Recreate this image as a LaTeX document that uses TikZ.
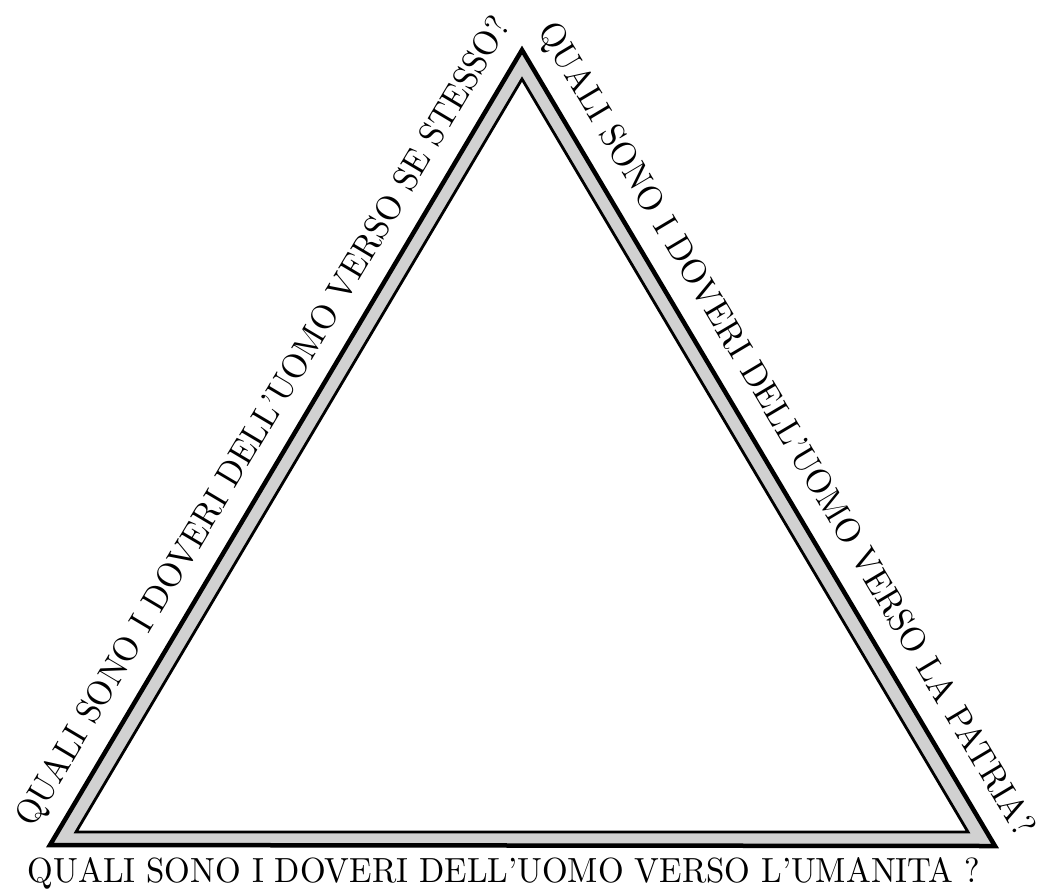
\documentclass[tikz,border=0pt]{standalone}
\usepackage{graphicx}
\begin{document}
\begin{tikzpicture}[x=1pt,y=-1pt,
  outerline/.style={line width=4.5pt, line join=miter, black},
  innerline/.style={line width=2.8pt, line join=miter, black},
  band/.style={fill=black!18, even odd rule},
  lbl/.style={inner sep=0pt, anchor=base, font=\rmfamily}]
\useasboundingbox (0,0) rectangle (1043,892);
\fill[white] (0,0) rectangle (1043,892);
% outer triangle corners
\coordinate (A) at (50,845);
\coordinate (B) at (995,846);
\coordinate (C) at (522,50);
% inner triangle corners
\coordinate (a) at (76,832);
\coordinate (b) at (968,832);
\coordinate (c) at (522,79);
\fill[band] (A) -- (B) -- (C) -- cycle (a) -- (b) -- (c) -- cycle;
\draw[outerline] (A) -- (B) -- (C) -- cycle;
\draw[innerline] (a) -- (b) -- (c) -- cycle;
% labels
\coordinate (Lpos) at (272.3,426.9);
\coordinate (Rpos) at (777.4,434.7);
\coordinate (Bpos) at (504,882);
\node[lbl, rotate=59.27] (left) at (Lpos) {\resizebox{935pt}{25pt}{QUALI SONO I DOVERI DELL'UOMO VERSO SE STESSO?}};
\node[lbl, rotate=-59.28] (right) at (Rpos) {\resizebox{940pt}{25pt}{QUALI SONO I DOVERI DELL'UOMO VERSO LA PATRIA?}};
\node[lbl] (bottom) at (Bpos) {\resizebox{952pt}{25pt}{QUALI SONO I DOVERI DELL'UOMO VERSO L'UMANITA ?}};
\end{tikzpicture}
\end{document}
